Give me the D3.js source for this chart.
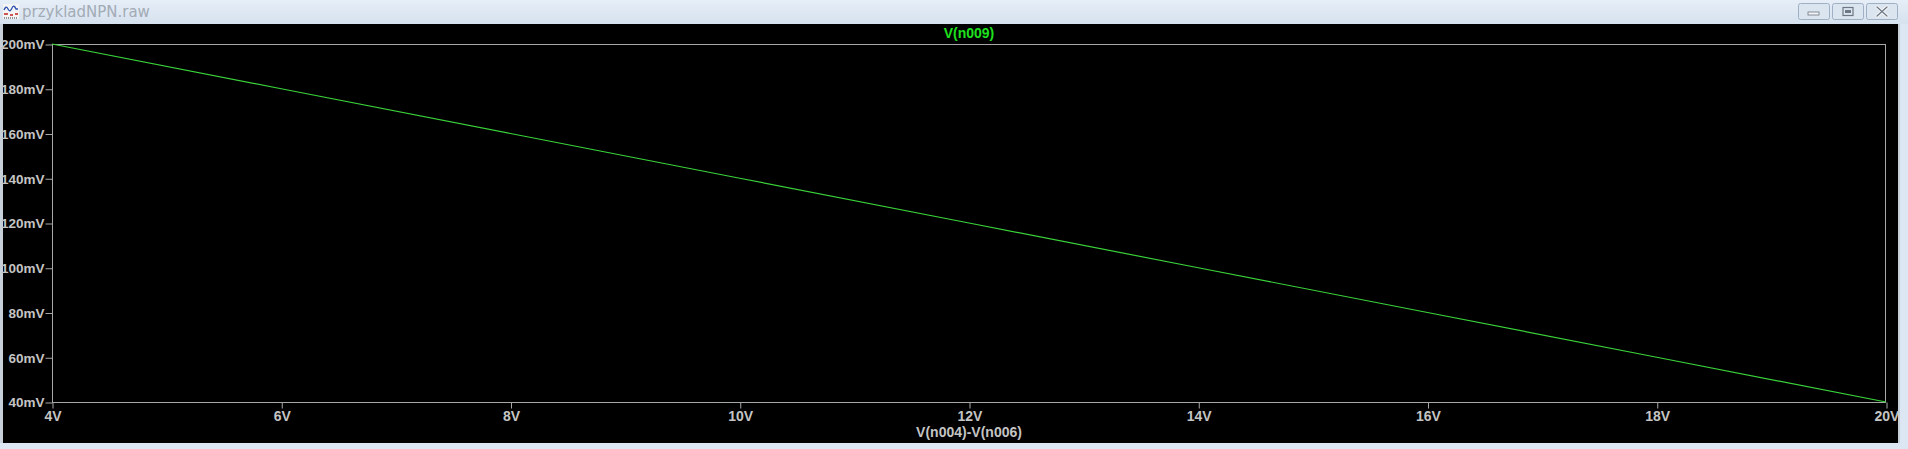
<!DOCTYPE html>
<html><head><meta charset="utf-8">
<script src="https://cdn.jsdelivr.net/npm/d3@7"></script>
<style>
html,body{margin:0;padding:0;background:#dfe8f2;overflow:hidden;}
svg{display:block;}
</style></head>
<body>
<svg id="c" width="1908" height="449"></svg>
<script>
// data
const xValues = [4, 6, 8, 10, 12, 14, 16, 18, 20];          // V(n004)-V(n006), volts
const yValues = [200, 180, 160, 140, 120, 100, 80, 60, 40];  // V(n009), mV
const xTicks = [4, 6, 8, 10, 12, 14, 16, 18, 20];
const yTicks = [40, 60, 80, 100, 120, 140, 160, 180, 200];
const traceName = "V(n009)";
const xAxisName = "V(n004)-V(n006)";
const windowTitle = "przykladNPN.raw";

const W = 1908, H = 449;
const svg = d3.select("#c");

// window chrome
const defs = svg.append("defs");
const g1 = defs.append("linearGradient").attr("id","tb").attr("x1",0).attr("y1",0).attr("x2",0).attr("y2",1);
g1.append("stop").attr("offset","0").attr("stop-color","#e6eef7");
g1.append("stop").attr("offset","1").attr("stop-color","#d6e2ef");
svg.append("rect").attr("x",0).attr("y",0).attr("width",W).attr("height",H).attr("fill","#dce7f3");
svg.append("rect").attr("x",0).attr("y",0).attr("width",W).attr("height",24).attr("fill","url(#tb)");
// title icon
const ic = svg.append("g").attr("transform","translate(3,4)");
ic.append("rect").attr("x",0).attr("y",0).attr("width",16).attr("height",15).attr("fill","#f4f4f4");
ic.append("path").attr("d","M1,6 Q3,1 5,5 Q7,9 9,4 Q11,0 13,5 L15,5").attr("fill","none").attr("stroke","#2a4fb0").attr("stroke-width",1.3);
ic.append("path").attr("d","M1,10 L5,10 M7,11 L10,11 M12,10 L15,10").attr("stroke","#c02020").attr("stroke-width",1.5);
ic.append("path").attr("d","M1,14 L15,14").attr("stroke","#333").attr("stroke-width",1).attr("stroke-dasharray","1,1");
svg.append("text").attr("x",22).attr("y",17).text(windowTitle)
  .attr("font-family","'DejaVu Sans','Noto Sans',sans-serif").attr("font-size",15).attr("fill","#a3abb5");
// window buttons
const btns = [[1798,"min"],[1832,"max"],[1866,"close"]];
btns.forEach(([bx,t])=>{
  const g = svg.append("g").attr("transform",`translate(${bx},3)`);
  g.append("rect").attr("x",0.5).attr("y",0.5).attr("width",31).attr("height",16).attr("rx",2)
    .attr("fill","#dbe5f0").attr("stroke","#9fb0c4");
  if(t==="min") g.append("rect").attr("x",10).attr("y",9).attr("width",11).attr("height",3).attr("fill","#f4f4f4").attr("stroke","#6b7785").attr("stroke-width",0.8);
  if(t==="max"){ g.append("rect").attr("x",11).attr("y",4.5).attr("width",10).attr("height",8).attr("fill","none").attr("stroke","#6b7785").attr("stroke-width",1.2);
                 g.append("rect").attr("x",13).attr("y",7).attr("width",6).attr("height",3).attr("fill","#6b7785");}
  if(t==="close") g.append("path").attr("d","M11,4 L21,13 M21,4 L11,13").attr("stroke","#f4f4f4").attr("stroke-width",3.2)
    .attr("stroke-linecap","round").clone().attr("stroke","#6b7785").attr("stroke-width",1.2);
});
// plot panel
svg.append("rect").attr("x",0).attr("y",24).attr("width",1900).attr("height",419).attr("fill","#c7cfd8");
svg.append("rect").attr("x",3).attr("y",24).attr("width",1895).attr("height",419).attr("fill","#000");

// scales
const x = d3.scaleLinear().domain([4,20]).range([52,1886]);
const y = d3.scaleLinear().domain([40,200]).range([402,44]);

const grey = "#c4c4c4";
const font = "'Liberation Sans', Arial, sans-serif";

// frame
svg.append("rect").attr("x",52.5).attr("y",44.5).attr("width",x(20)-x(4)-1).attr("height",y(40)-y(200))
  .attr("fill","none").attr("stroke","#a8a8a8").attr("stroke-width",1);

// axes
const xAxis = d3.axisBottom(x).tickValues(xTicks).tickFormat(d=>d+"V").tickSize(6).tickPadding(3);
const gx = svg.append("g").attr("transform",`translate(0.5,${y(40)+0.5})`).call(xAxis);
gx.select(".domain").remove();
gx.selectAll("line").attr("stroke","#a8a8a8");
gx.selectAll("text").attr("fill",grey).attr("font-family",font).attr("font-weight","bold").attr("font-size",14);

const yAxis = d3.axisLeft(y).tickValues(yTicks).tickFormat(d=>d+"mV").tickSize(7).tickPadding(1);
const gy = svg.append("g").attr("transform",`translate(52.5,0.5)`).call(yAxis);
gy.select(".domain").remove();
gy.selectAll("line").attr("stroke","#a8a8a8");
gy.selectAll("text").attr("fill",grey).attr("font-family",font).attr("font-weight","bold").attr("font-size",13.5);

// trace
const line = d3.line().x((d,i)=>x(xValues[i])).y(d=>y(d));
svg.append("path").datum(yValues).attr("d",line).attr("fill","none")
  .attr("stroke","#3ad23a").attr("stroke-width",1.2);

// titles
svg.append("text").attr("x",(x(4)+x(20))/2).attr("y",38).attr("text-anchor","middle").text(traceName)
  .attr("fill","#1ee01e").attr("font-family",font).attr("font-weight","bold").attr("font-size",14);
svg.append("text").attr("x",(x(4)+x(20))/2).attr("y",437).attr("text-anchor","middle").text(xAxisName)
  .attr("fill",grey).attr("font-family",font).attr("font-weight","bold").attr("font-size",14);
</script>
</body></html>
